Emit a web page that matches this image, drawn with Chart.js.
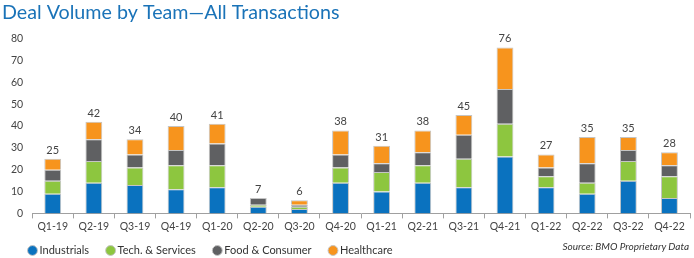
<!DOCTYPE html>
<html>
<head>
<meta charset="utf-8">
<script src="https://cdn.jsdelivr.net/npm/chart.js@4/dist/chart.umd.min.js"></script>
<style>
  html, body { margin: 0; padding: 0; background: #fff; }
  #wrap { position: relative; width: 694px; height: 258px; }
  #source { position: absolute; right: 5px; top: 240px; font: italic 10px Lato, sans-serif; color: #333; }
</style>
</head>
<body>
<div id="wrap">
  <canvas id="c" width="694" height="258"></canvas>
  <div id="source">Source: BMO Proprietary Data</div>
</div>
<script>
const categories = ["Q1-19","Q2-19","Q3-19","Q4-19","Q1-20","Q2-20","Q3-20","Q4-20","Q1-21","Q2-21","Q3-21","Q4-21","Q1-22","Q2-22","Q3-22","Q4-22"];
const industrials = [9,14,13,11,12,3,2,14,10,14,12,26,12,9,15,7];
const techServices = [6,10,8,11,10,1,1,7,9,8,13,15,5,5,9,10];
const foodConsumer = [5,10,6,7,10,3,1,6,4,6,11,16,4,9,5,5];
const healthcare = [5,8,7,11,9,0,2,11,8,10,9,19,6,12,6,6];
const yTicks = [0,10,20,30,40,50,60,70,80];

const FONT = "Lato, sans-serif";

const totalsPlugin = {
  id: 'totals',
  afterDatasetsDraw(chart) {
    const ctx = chart.ctx;
    const xs = chart.scales.x, ys = chart.scales.y;
    ctx.save();
    ctx.font = "11px " + FONT;
    ctx.fillStyle = "#444";
    ctx.textAlign = "center";
    ctx.textBaseline = "bottom";
    categories.forEach((c, i) => {
      let sum = 0;
      chart.data.datasets.forEach(ds => { sum += ds.data[i]; });
      ctx.fillText(String(sum), xs.getPixelForValue(i), ys.getPixelForValue(sum) - 3);
    });
    ctx.restore();
  }
};

const legendShift = {
  id: 'legendShift',
  afterLayout(chart) {
    const lg = chart.legend;
    if (lg) { lg.left += 9; lg.right += 9; lg.top -= 10; lg.bottom -= 10; }
  }
};

const common = { borderColor: "#c4c4c4", borderWidth: 1, barPercentage: 0.41, categoryPercentage: 1.0 };

new Chart(document.getElementById('c'), {
  type: 'bar',
  data: {
    labels: categories,
    datasets: [
      Object.assign({ label: "Industrials", data: industrials, backgroundColor: "#0a72bf" }, common),
      Object.assign({ label: "Tech. & Services", data: techServices, backgroundColor: "#8dc63f" }, common),
      Object.assign({ label: "Food & Consumer", data: foodConsumer, backgroundColor: "#5f6062" }, common),
      Object.assign({ label: "Healthcare", data: healthcare, backgroundColor: "#f7941d" }, common)
    ]
  },
  options: {
    responsive: false,
    animation: false,
    layout: { padding: { left: 2, right: 4, top: 0, bottom: -18 } },
    scales: {
      x: {
        stacked: true,
        grid: { display: true, drawOnChartArea: false, tickLength: 5, color: "#a0a0a0", offset: true },
        border: { display: true, color: "#a0a0a0" },
        ticks: { font: { family: FONT, size: 10.5 }, color: "#444", maxRotation: 0, autoSkip: false, padding: 2 }
      },
      y: {
        stacked: true,
        min: 0, max: 80,
        afterBuildTicks(axis) { axis.ticks = yTicks.map(v => ({ value: v })); },
        grid: { display: false, drawTicks: false },
        border: { display: false },
        ticks: { font: { family: FONT, size: 10.5 }, color: "#444", padding: 9 }
      }
    },
    plugins: {
      title: {
        display: true,
        text: "Deal Volume by Team\u2014All Transactions",
        align: 'start',
        color: "#1a73b8",
        font: { family: FONT, size: 19.7, weight: 'normal' },
        padding: { top: 1, bottom: 14 }
      },
      legend: {
        position: 'bottom',
        align: 'start',
        labels: {
          usePointStyle: true, pointStyle: 'circle', boxWidth: 3, boxHeight: 7,
          font: { family: FONT, size: 11 }, color: "#333", padding: 20
        }
      },
      tooltip: { enabled: false }
    }
  },
  plugins: [totalsPlugin, legendShift]
});
</script>
</body>
</html>
